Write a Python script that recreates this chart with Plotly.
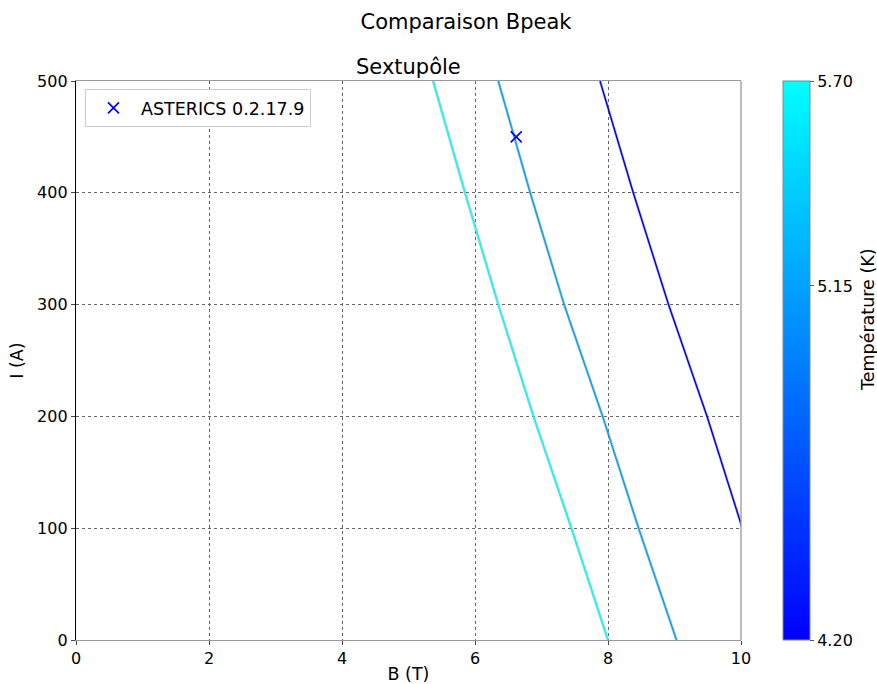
import plotly.graph_objects as go

# Data
I_levels = [500, 400, 300, 200, 100, 0]
B_T570 = [5.37, 5.85, 6.35, 6.88, 7.45, 8.00]
B_T515 = [6.35, 6.83, 7.34, 7.92, 8.46, 9.03]
I_levels_T420 = [500, 400, 300, 200, 100, 0]
B_T420 = [7.88, 8.38, 8.91, 9.49, 10.02, 10.58]
temperatures = [5.70, 5.15, 4.20]
T_min, T_max = 4.20, 5.70
cbar_ticks = [4.20, 5.15, 5.70]
cbar_ticktext = ["4.20", "5.15", "5.70"]
asterics_B = [6.62]
asterics_I = [450]

FONT = "DejaVu Sans"
TICK_FS = 16
LABEL_FS = 17.5
TITLE_FS = 21

W, H = 877, 684
ML, MR, MT, MB = 76, 136, 81, 44


def t_color(t):
    f = (t - T_min) / (T_max - T_min)
    return "rgb(0,%d,255)" % round(255 * f)


fig = go.Figure()

series = [(B_T570, I_levels, temperatures[0]),
          (B_T515, I_levels, temperatures[1]),
          (B_T420, I_levels_T420, temperatures[2])]

for bx, iy, t in series:
    fig.add_trace(go.Scatter(x=bx, y=iy, mode="lines",
                             line=dict(color="rgba(150,150,150,0.45)", width=2.9),
                             showlegend=False, hoverinfo="skip"))
    fig.add_trace(go.Scatter(x=bx, y=iy, mode="lines",
                             line=dict(color=t_color(t), width=1.5),
                             showlegend=False))

fig.add_trace(go.Scatter(x=asterics_B, y=asterics_I, mode="markers",
                         marker=dict(symbol="x-thin", size=11, color="blue",
                                     line=dict(color="blue", width=1.7)),
                         name="ASTERICS 0.2.17.9"))

# colorbar carrier
fig.add_trace(go.Scatter(
    x=[None], y=[None], mode="markers", showlegend=False, hoverinfo="skip",
    marker=dict(color=[T_min, T_max], cmin=T_min, cmax=T_max,
                colorscale=[[0, "rgb(0,0,255)"], [1, "rgb(0,255,255)"]],
                showscale=True,
                colorbar=dict(
                    x=1.0632, xanchor="left", xref="paper", xpad=0, ypad=0,
                    y=0.5, yanchor="middle", len=1.0, lenmode="fraction",
                    thickness=27, thicknessmode="pixels",
                    outlinecolor="#888888", outlinewidth=1,
                    tickvals=cbar_ticks, ticktext=cbar_ticktext,
                    ticks="outside", ticklen=4, tickcolor="#555",
                    tickfont=dict(family=FONT, size=TICK_FS, color="black"),
                ))))

axis_common = dict(showgrid=True, gridcolor="#666666", griddash="dot", gridwidth=1,
                   showline=True, linewidth=1.3,
                   ticks="outside", ticklen=4, tickcolor="#444",
                   tickfont=dict(family=FONT, size=TICK_FS, color="black"),
                   zeroline=False, automargin=False)

fig.update_layout(
    width=W, height=H,
    margin=dict(l=ML, r=MR, t=MT, b=MB, autoexpand=False),
    plot_bgcolor="white", paper_bgcolor="white",
    font=dict(family=FONT, size=LABEL_FS, color="black"),
    xaxis=dict(range=[0, 10], tickvals=[0, 2, 4, 6, 8, 10],
               linecolor="#999999", mirror=True,
               title=dict(text="B (T)", standoff=4,
                          font=dict(family=FONT, size=LABEL_FS)),
               **axis_common),
    yaxis=dict(range=[0, 500], tickvals=[0, 100, 200, 300, 400, 500],
               linecolor="black", mirror=False,
               title=dict(text="I (A)", standoff=8,
                          font=dict(family=FONT, size=LABEL_FS)),
               **axis_common),
    legend=dict(x=0.0135, y=0.9857, xanchor="left", yanchor="top",
                itemwidth=45,
                bgcolor="white", bordercolor="#cccccc", borderwidth=1,
                font=dict(family=FONT, size=LABEL_FS, color="black")),
    title=dict(text="Comparaison Bpeak", x=466 / W, xanchor="center",
               y=1 - 22 / H, yanchor="middle",
               font=dict(family=FONT, size=TITLE_FS)),
    annotations=[
        dict(text="Sextupôle", x=0.5, xref="paper", y=1.0, yref="paper",
             yanchor="middle", yshift=14, showarrow=False,
             font=dict(family=FONT, size=TITLE_FS)),
        dict(text="Température (K)", x=(868 - ML) / (W - ML - MR), xref="paper",
             y=(H - MB - 320) / (H - MT - MB), yref="paper",
             xanchor="center", yanchor="middle", textangle=-90, showarrow=False,
             font=dict(family=FONT, size=LABEL_FS)),
    ],
    shapes=[dict(type="line", xref="paper", yref="paper", x0=1, x1=1, y0=0, y1=1,
                 line=dict(color="#999999", width=1.3))],
)

fig.write_html("out.html",
               config={"displayModeBar": False},
               post_script="document.body.style.margin='0';"
                           "document.body.style.overflow='hidden';")
